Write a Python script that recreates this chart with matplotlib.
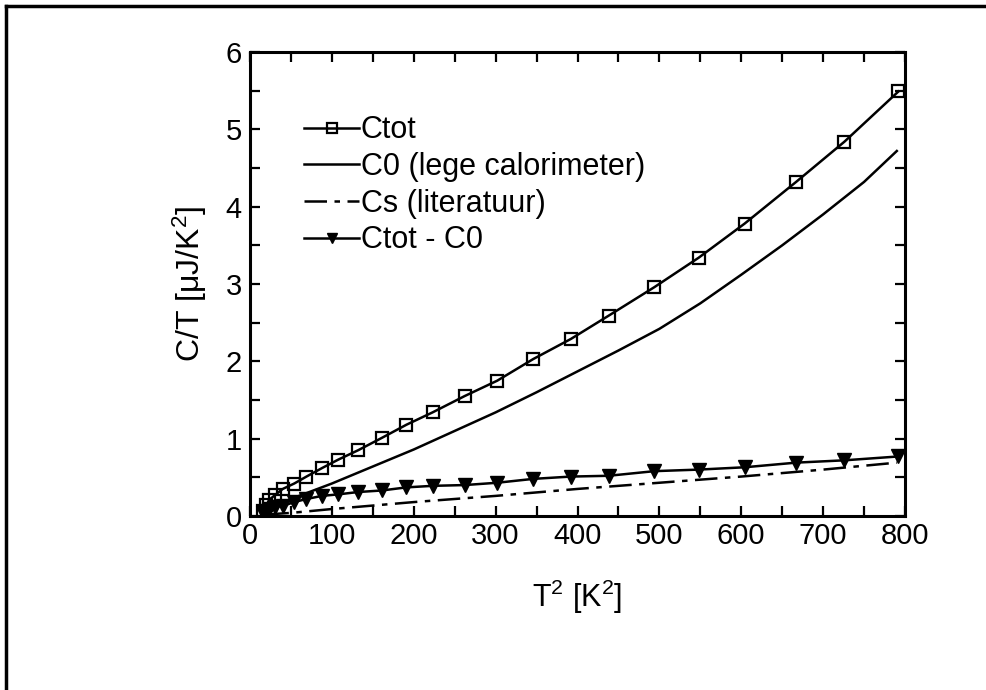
import matplotlib
matplotlib.use('agg')
import matplotlib.pyplot as plt
from matplotlib.ticker import MultipleLocator
from matplotlib.lines import Line2D

plt.rcParams['font.family'] = ['Liberation Sans', 'DejaVu Sans']
plt.rcParams['mathtext.fontset'] = 'custom'
plt.rcParams['mathtext.rm'] = 'Liberation Sans'
plt.rcParams['mathtext.it'] = 'Liberation Sans'

# T^2 of the measured points [K^2]
t2 = [16, 20, 23.5, 30.5, 40, 54, 69, 88, 108, 132, 161, 191, 223, 262,
      302, 346, 392, 438, 494, 548, 604, 667, 726, 792]
# Ctot/T [uJ/K^2]
ctot = [0.07, 0.14, 0.21, 0.27, 0.35, 0.42, 0.51, 0.62, 0.73, 0.85, 1.01,
        1.18, 1.34, 1.55, 1.75, 2.03, 2.29, 2.59, 2.96, 3.34, 3.78, 4.32,
        4.84, 5.49]
# (Ctot - C0)/T
diff = [0.04, 0.07, 0.09, 0.12, 0.13, 0.18, 0.22, 0.26, 0.28, 0.31, 0.33,
        0.37, 0.39, 0.40, 0.43, 0.48, 0.51, 0.52, 0.58, 0.60, 0.63, 0.69,
        0.72, 0.77]

# empty calorimeter curve
c0_x = [20, 40, 70, 100, 150, 200, 250, 300, 350, 400, 450, 500, 550, 600,
        650, 700, 750, 770, 790]
c0_y = [0.08, 0.18, 0.30, 0.42, 0.64, 0.86, 1.10, 1.34, 1.60, 1.87, 2.14,
        2.42, 2.75, 3.12, 3.50, 3.90, 4.32, 4.52, 4.72]

# literature curve
cs_x = [20, 50, 100, 200, 300, 400, 500, 600, 700, 790]
cs_y = [0.02, 0.04, 0.09, 0.18, 0.26, 0.35, 0.43, 0.51, 0.60, 0.69]

fig = plt.figure(figsize=(9.86, 6.9), dpi=100)
ax = fig.add_axes([250 / 986, 1 - 516 / 690, 655 / 986, 464 / 690])

lw = 1.8
ax.plot(t2, ctot, color='black', lw=lw, marker='s', ms=9, mfc='none',
        mew=1.6, label='Ctot')
ax.plot(c0_x, c0_y, color='black', lw=lw, label='C0 (lege calorimeter)')
ax.plot(cs_x, cs_y, color='black', lw=lw, dashes=(9, 3, 2.2, 3),
        label='Cs (literatuur)')
ax.plot(t2, diff, color='black', lw=lw, marker='v', ms=10.5,
        label='Ctot - C0')

ax.set_xlim(0, 800)
ax.set_ylim(0, 6)
ax.xaxis.set_major_locator(MultipleLocator(100))
ax.xaxis.set_minor_locator(MultipleLocator(50))
ax.yaxis.set_major_locator(MultipleLocator(1))
ax.yaxis.set_minor_locator(MultipleLocator(0.5))
for which in ('major', 'minor'):
    ax.tick_params(which=which, direction='in', length=7, width=1.6,
                   top=True, right=True, labelsize=21, pad=4)
ax.tick_params(axis='y', pad=6)
for sp in ax.spines.values():
    sp.set_linewidth(2.2)

ax.set_xlabel('T$^2$ [K$^2$]', fontsize=22, labelpad=20)
ax.set_ylabel('C/T [μJ/K$^2$]', fontsize=23, labelpad=12)

ax.legend(loc='upper left', bbox_to_anchor=(0.064, 0.89), frameon=False,
          fontsize=22, handlelength=1.8, handletextpad=0.05,
          labelspacing=0.22, borderaxespad=0, markerscale=0.75)

# outer frame of the scanned figure
fig.add_artist(Line2D([6 / 986, 1], [1 - 6 / 690, 1 - 6 / 690],
                      transform=fig.transFigure, color='black', lw=2.5))
fig.add_artist(Line2D([6 / 986, 6 / 986], [0, 1 - 6 / 690],
                      transform=fig.transFigure, color='black', lw=2.5))

fig.savefig('out.png', dpi=100)
